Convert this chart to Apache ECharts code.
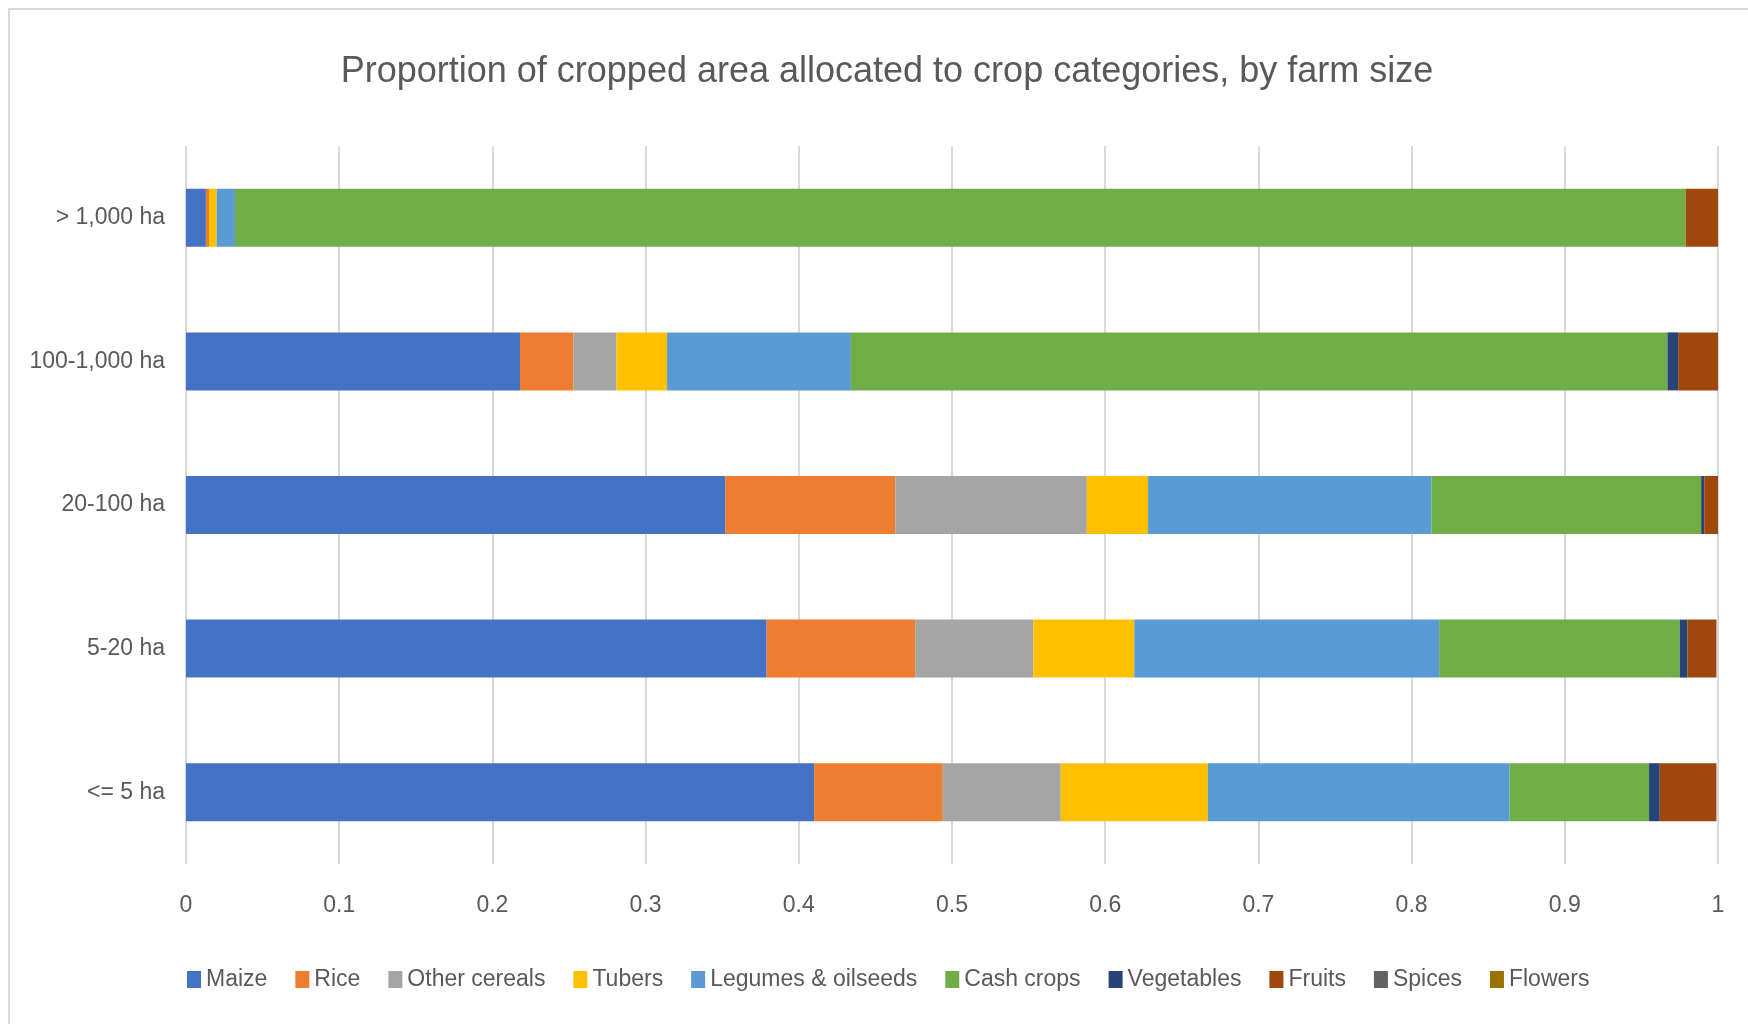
<!DOCTYPE html>
<html>
<head>
<meta charset="utf-8">
<title>Proportion of cropped area by farm size</title>
<script src="https://cdn.jsdelivr.net/npm/echarts@6/dist/echarts.min.js"></script>
<style>
    html, body {
        margin: 0;
        padding: 0;
        background: #fff;
        overflow: hidden;
    }
    /* chart area frame, only top and left edges are in view */
    .frame {
        position: absolute;
        left: 8px;
        top: 8px;
        width: 1800px;
        height: 1100px;
        border: 2px solid #d9d9d9;
    }
    #chart {
        position: absolute;
        left: 0;
        top: 0;
        width: 1748px;
        height: 1024px;
    }
</style>
</head>
<body>
<div class="frame"></div>
<div id="chart"></div>

<script>
    // farm size classes, bottom to top
    const farmSizes = ['<= 5 ha', '5-20 ha', '20-100 ha', '100-1,000 ha', '> 1,000 ha']

    // share of cropped area, same order as farmSizes
    const maize = [0.410, 0.379, 0.352, 0.218, 0.013]
    const rice = [0.084, 0.097, 0.111, 0.035, 0.002]
    const otherCereals = [0.077, 0.077, 0.125, 0.028, 0.000]
    const tubers = [0.096, 0.066, 0.040, 0.033, 0.005]
    const legumes = [0.197, 0.199, 0.185, 0.120, 0.012]
    const cashCrops = [0.091, 0.157, 0.176, 0.533, 0.947]
    const vegetables = [0.007, 0.005, 0.002, 0.007, 0.000]
    const fruits = [0.037, 0.019, 0.009, 0.026, 0.021]
    const spices = [0, 0, 0, 0, 0]
    const flowers = [0, 0, 0, 0, 0]

    const xTicks = [0, 0.1, 0.2, 0.3, 0.4, 0.5, 0.6, 0.7, 0.8, 0.9, 1]

    const seriesList = [
        {name: 'Maize', data: maize, color: '#4472c4'},
        {name: 'Rice', data: rice, color: '#ed7d31'},
        {name: 'Other cereals', data: otherCereals, color: '#a5a5a5'},
        {name: 'Tubers', data: tubers, color: '#ffc000'},
        {name: 'Legumes & oilseeds', data: legumes, color: '#5b9bd5'},
        {name: 'Cash crops', data: cashCrops, color: '#70ad47'},
        {name: 'Vegetables', data: vegetables, color: '#264478'},
        {name: 'Fruits', data: fruits, color: '#9e480e'},
        {name: 'Spices', data: spices, color: '#636363'},
        {name: 'Flowers', data: flowers, color: '#997300'},
    ]

    const font = 'Liberation Sans, Arial, sans-serif'
    const textColor = '#595959'

    const chart = echarts.init(document.getElementById('chart'))
    const option = {
        animation: false,
        textStyle: {fontFamily: font},
        title: {
            text: 'Proportion of cropped area allocated to crop categories, by farm size',
            left: 882,
            textAlign: 'center',
            top: 49,
            textStyle: {
                fontFamily: font,
                fontSize: 36,
                fontWeight: 'normal',
                color: textColor,
            },
        },
        grid: {
            left: 186,
            right: 30,
            top: 146,
            bottom: 160,
            containLabel: false,
        },
        legend: {
            left: 182,
            top: 963,
            itemWidth: 14,
            itemHeight: 17,
            itemGap: 28,
            icon: 'rect',
            textStyle: {
                fontFamily: font,
                fontSize: 23,
                color: textColor,
            },
            data: seriesList.map(s => s.name),
        },
        xAxis: {
            type: 'value',
            min: xTicks[0],
            max: xTicks[xTicks.length - 1],
            interval: 0.1,
            axisLine: {show: false},
            axisTick: {show: false},
            axisLabel: {
                margin: 30,
                fontFamily: font,
                fontSize: 23,
                color: textColor,
                formatter: v => String(Math.round(v * 10) / 10),
            },
            splitLine: {
                lineStyle: {color: '#d9d9d9', width: 2},
            },
        },
        yAxis: {
            type: 'category',
            data: farmSizes,
            axisLine: {show: false},
            axisTick: {show: false},
            axisLabel: {
                margin: 21,
                fontFamily: font,
                fontSize: 23,
                color: textColor,
            },
        },
        series: seriesList.map(s => ({
            name: s.name,
            type: 'bar',
            stack: 'total',
            barWidth: 58,
            data: s.data,
            itemStyle: {color: s.color},
        })),
    }
    chart.setOption(option)
</script>
</body>
</html>
